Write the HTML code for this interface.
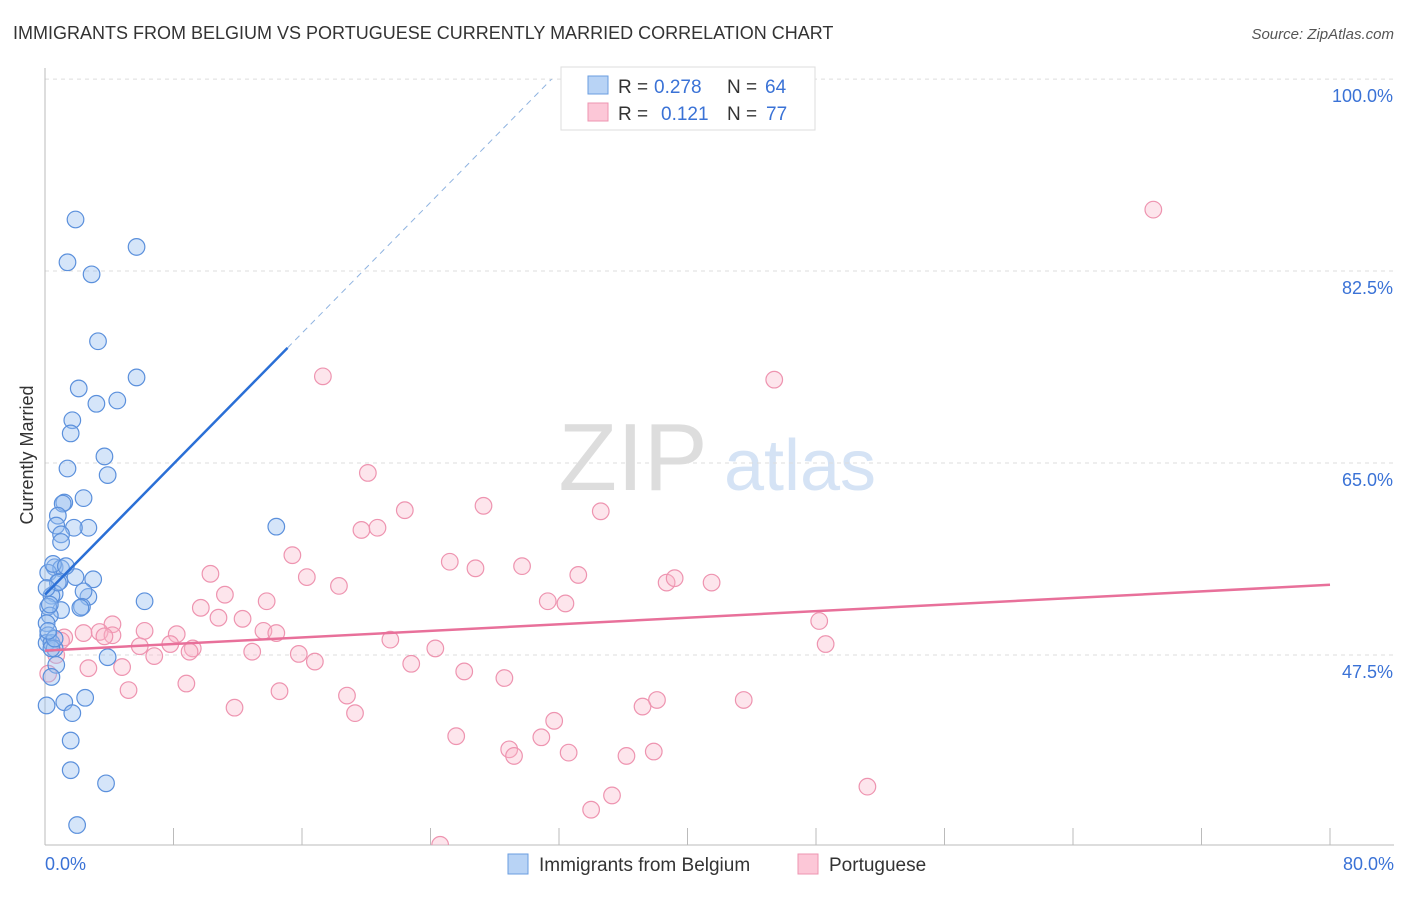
<!DOCTYPE html>
<html><head><meta charset="utf-8"><style>
body{margin:0;background:#fff;font-family:"Liberation Sans",sans-serif;}
svg text{font-family:"Liberation Sans",sans-serif;}
</style></head><body>
<svg id="chart" width="1406" height="892" xmlns="http://www.w3.org/2000/svg">
<text x="13" y="39" font-size="18" fill="#333">IMMIGRANTS FROM BELGIUM VS PORTUGUESE CURRENTLY MARRIED CORRELATION CHART</text>
<text x="1394" y="39" font-size="15" fill="#555" text-anchor="end" font-style="italic">Source: ZipAtlas.com</text>
<text transform="translate(33,455) rotate(-90)" font-size="18" fill="#333" text-anchor="middle">Currently Married</text>
<g>
<text x="633" y="490" font-size="96" fill="#ddd" font-family="Liberation Serif" text-anchor="middle">ZIP</text>
<text x="800" y="490" font-size="72" fill="#d5e3f5" text-anchor="middle">atlas</text>
</g>
<g id="grid"></g>
<g id="clipgrp" clip-path="url(#pc)"><g id="pts"></g></g>
<defs><clipPath id="pc"><rect x="20" y="60" width="1380" height="785"/></clipPath></defs>
<g id="lines"></g>
<g>
<rect x="561" y="67" width="254" height="63" fill="#fff" stroke="#ddd"/>
<rect x="588" y="76" width="20" height="18" fill="#b8d3f5" stroke="#6a9ee0"/>
<rect x="588" y="103" width="20" height="18" fill="#fcc7d7" stroke="#ee94b0"/>
<text x="618" y="93" font-size="19" fill="#333">R =</text>
<text x="654" y="93" font-size="19" fill="#3a72d6">0.278</text>
<text x="727" y="93" font-size="19" fill="#333">N =</text>
<text x="765" y="93" font-size="19" fill="#3a72d6">64</text>
<text x="618" y="120" font-size="19" fill="#333">R =</text>
<text x="661" y="120" font-size="19" fill="#3a72d6">0.121</text>
<text x="727" y="120" font-size="19" fill="#333">N =</text>
<text x="766" y="120" font-size="19" fill="#3a72d6">77</text>
</g>
<g>
<rect x="508" y="854" width="20" height="20" fill="#b8d3f5" stroke="#6a9ee0"/>
<text x="539" y="871" font-size="19" fill="#333">Immigrants from Belgium</text>
<rect x="798" y="854" width="20" height="20" fill="#fcc7d7" stroke="#ee94b0"/>
<text x="829" y="871" font-size="19" fill="#333">Portuguese</text>
</g>
</svg>
<script>
const blueX=[1.9,1.4,2.9,5.7,3.3,5.7,2.1,3.2,4.5,1.7,1.6,3.7,3.9,1.4,1.2,2.4,1.1,0.8,2.7,1.8,0.7,1.0,1.0,0.6,1.0,0.2,1.9,3.0,0.9,0.6,0.4,2.7,2.4,2.3,2.2,1.0,0.2,0.3,0.1,0.2,0.1,0.4,0.6,6.2,14.4,3.9,0.7,0.4,0.1,1.2,1.7,2.5,1.6,1.6,3.8,2.0,0.4,0.6,0.3,0.8,0.1,0.5,1.3,0.2];
const blueY=[87.2,83.3,82.2,84.7,76.1,72.8,71.8,70.4,70.7,68.9,67.7,65.6,63.9,64.5,61.4,61.8,61.3,60.2,59.1,59.1,59.3,58.5,57.8,55.5,55.4,55.0,54.6,54.4,54.2,53.1,52.9,52.8,53.3,51.9,51.8,51.6,51.9,51.1,50.4,49.3,48.6,48.6,48.1,52.4,59.2,47.3,46.6,45.5,42.9,43.2,42.2,43.6,39.7,37.0,35.8,32.0,48.1,49.0,52.1,54.1,53.6,55.8,55.6,49.7];
const pinkX=[69.0,17.3,45.4,20.1,27.3,22.4,34.6,20.7,19.7,15.4,25.2,26.8,29.7,10.3,16.3,18.3,33.2,38.7,39.2,41.5,11.2,13.8,31.3,32.4,9.7,10.8,12.3,48.2,4.2,6.2,2.4,3.4,4.2,1.2,1.0,8.2,13.6,14.4,7.8,5.9,9.2,3.7,48.6,21.5,24.3,12.9,15.8,16.8,6.8,9.0,22.8,4.8,2.7,26.1,28.6,8.8,5.2,14.6,18.8,38.1,37.2,43.5,11.8,19.3,31.7,25.6,30.9,28.9,29.2,32.6,37.9,36.2,51.2,35.3,34.0,24.6,0.2,0.7];
const pinkY=[88.1,72.9,72.6,64.1,61.1,60.7,60.6,59.1,58.9,56.6,56.0,55.4,55.6,54.9,54.6,53.8,54.8,54.1,54.5,54.1,53.0,52.4,52.4,52.2,51.8,50.9,50.8,50.6,50.3,49.7,49.5,49.6,49.3,49.1,48.8,49.4,49.7,49.5,48.5,48.3,48.1,49.2,48.5,48.9,48.1,47.8,47.6,46.9,47.4,47.8,46.7,46.4,46.3,46.0,45.4,44.9,44.3,44.2,43.8,43.4,42.8,43.4,42.7,42.2,41.5,40.1,40.0,38.9,38.3,38.6,38.7,38.3,35.5,34.7,33.4,30.2,45.8,47.5];
const xTicks=[0,8,16,24,32,40,48,56,64,72,80];
const yTicks=[47.5,65.0,82.5,100.0];
const blueTrend=[[0,53.0],[15.1,75.5]];
const pinkTrend=[[0,47.9],[80,53.9]];
const X=v=>45+v/80*1285, Y=v=>655-(v-47.5)*10.97;
const NS='http://www.w3.org/2000/svg';
function mk(t,a,p){const e=document.createElementNS(NS,t);for(const k in a)e.setAttribute(k,a[k]);p.appendChild(e);return e;}
const grid=document.getElementById('grid');
yTicks.forEach(v=>{
 const l=mk('line',{x1:45,x2:1394,y1:Y(v),y2:Y(v),stroke:'#ddd','stroke-dasharray':'4,4'},grid);
 
 
 const t=mk('text',{x:1393,y:Y(v)+23,'font-size':18,fill:'#3a72d6','text-anchor':'end'},grid);
 t.textContent=v.toFixed(1)+'%';
 
 
});
mk('line',{x1:45,x2:45,y1:68,y2:845,stroke:'#bbb'},grid);
mk('line',{x1:45,x2:1394,y1:845,y2:845,stroke:'#bbb'},grid);
xTicks.forEach(v=>{const l=mk('line',{x1:X(v),x2:X(v),y1:828,y2:845,stroke:'#bbb'},grid);
 
 });
[[0,'0.0%','start',45],[80,'80.0%','end',1394]].forEach(d=>{const t=mk('text',{x:d[3],y:870,'font-size':18,fill:'#3a72d6','text-anchor':d[2]},grid);t.textContent=d[1];
 
 });
const pts=document.getElementById('pts');
pinkX.forEach((v,i)=>{const c=mk('circle',{cx:X(v),cy:Y(pinkY[i]),r:8.3,fill:'rgba(248,180,200,0.35)',stroke:'#ee94b0','stroke-width':1.2},pts);
 
 });
blueX.forEach((v,i)=>{const c=mk('circle',{cx:X(v),cy:Y(blueY[i]),r:8.3,fill:'rgba(150,190,240,0.4)',stroke:'#5b90dc','stroke-width':1.2},pts);
 
 });
const lines=document.getElementById('lines');
const b=blueTrend, sl=(b[1][1]-b[0][1])/(b[1][0]-b[0][0]);
const dl=mk('line',{x1:X(b[1][0]),y1:Y(b[1][1]),x2:X(b[1][0]+(100-b[1][1])/sl),y2:Y(100),stroke:'#8fb3e0','stroke-dasharray':'6,5'},lines);


const bl=mk('line',{x1:X(b[0][0]),y1:Y(b[0][1]),x2:X(b[1][0]),y2:Y(b[1][1]),stroke:'#2a6fd6','stroke-width':2.5},lines);


const pl=mk('line',{x1:X(pinkTrend[0][0]),y1:Y(pinkTrend[0][1]),x2:X(pinkTrend[1][0]),y2:Y(pinkTrend[1][1]),stroke:'#e8709a','stroke-width':2.5},lines);


</script>
</body></html>
